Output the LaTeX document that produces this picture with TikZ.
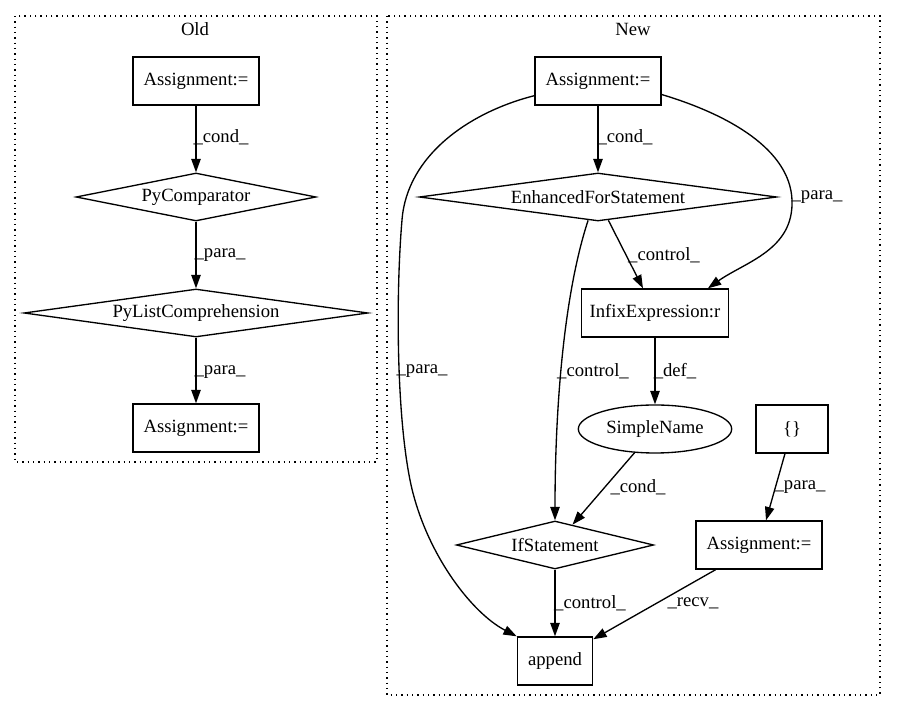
\documentclass[tikz,border=0pt]{standalone}
\usepackage{fontspec}
\setmainfont{Liberation Serif}
\usetikzlibrary{shapes.geometric}
\usetikzlibrary{arrows.meta}
\tikzset{>={Triangle[length=10pt,width=7pt]}}

\begin{document}
\begin{tikzpicture}[x=0.75pt,y=-0.75pt,font=\fontsize{14}{16}\selectfont,
  box/.style={draw,line width=1pt,rectangle,minimum height=36pt,minimum width=54pt,inner xsep=8pt},
  dia/.style={draw,line width=1pt,diamond,aspect=6,inner sep=0pt,minimum height=36pt},
  oval/.style={draw,line width=1pt,ellipse,inner sep=0pt,minimum height=36pt},
  cluster/.style={line width=1pt,dash pattern=on 1pt off 3pt},
  lbl/.style={inner sep=0pt},
  flow/.style={->,line width=1pt}]

	\useasboundingbox (0,0) rectangle (897,712);

	\draw[cluster] (15,16) rectangle (377,462);
	\draw[cluster] (387,16) rectangle (880,695);
	\node[lbl] (old) at (195,29) {Old};
	\node[lbl] (new) at (633,29) {New};

	\node[box] (oa) at (196,81) {Assignment:=};
	\node[dia,minimum width=180pt] (pc) at (196,197) {PyComparator};
	\node[dia,minimum width=258pt] (plc) at (196,313) {PyListComprehension};
	\node[box] (ob) at (196,428) {Assignment:=};

	\node[box] (na) at (598,81) {Assignment:=};
	\node[dia,minimum width=268pt] (efs) at (598,197) {EnhancedForStatement};
	\node[box,inner xsep=6pt] (inf) at (655,313) {InfixExpression:r};
	\node[oval,minimum width=115pt] (sn) at (655,429) {SimpleName};
	\node[box] (br) at (792,429) {\{\}};
	\node[dia,minimum width=148pt] (ifs) at (555,545) {IfStatement};
	\node[box] (nb) at (759,545) {Assignment:=};
	\node[box] (app) at (555,661) {append};

	\draw[flow] (oa) -- (pc);
	\draw[flow] (pc) -- (plc);
	\draw[flow] (plc) -- (ob);

	\draw[flow] (na) -- (efs);
	\draw[flow] (na.-12.5) .. controls (730,115) and (790,150) .. (792,200)
		.. controls (794,250) and (745,262) .. (inf.25.6);
	\draw[flow] (na.-167.3) .. controls (470,112) and (407,155) .. (402,220)
		.. controls (396,290) and (396,410) .. (410,480)
		.. controls (424,550) and (470,612) .. (app.north west);
	\draw[flow] (efs.-66.5) -- (inf.116.6);
	\draw[flow] (efs.-113.5) .. controls (562,300) and (555,420) .. (ifs.north);
	\draw[flow] (inf) -- (sn);
	\draw[flow] (sn) -- (ifs);
	\draw[flow] (br) -- (nb);
	\draw[flow] (ifs) -- (app);
	\draw[flow] (nb) -- (app);

	\node[lbl] (l1) at (221,137) {\_cond\_};
	\node[lbl] (l2) at (220,255) {\_para\_};
	\node[lbl] (l3) at (220,372) {\_para\_};
	\node[lbl] (l4) at (625,137) {\_cond\_};
	\node[lbl] (l5) at (817,197) {\_para\_};
	\node[lbl] (l6) at (664,255) {\_control\_};
	\node[lbl] (l7) at (422,371) {\_para\_};
	\node[lbl] (l8) at (593,371) {\_control\_};
	\node[lbl] (l9) at (675,371) {\_def\_};
	\node[lbl] (l10) at (638,487) {\_cond\_};
	\node[lbl] (l11) at (800,487) {\_para\_};
	\node[lbl] (l12) at (590,603) {\_control\_};
	\node[lbl] (l13) at (693,603) {\_recv\_};
\end{tikzpicture}
\end{document}
